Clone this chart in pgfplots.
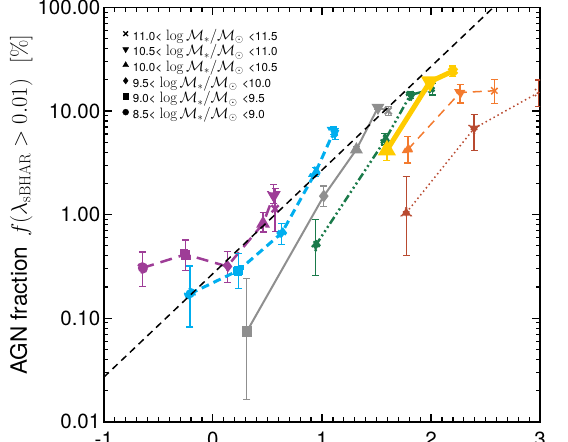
\RequirePackage{fix-cm}
\documentclass[border=0pt]{standalone}
\usepackage{fontspec}
\usepackage{pgfplots}
\pgfplotsset{compat=1.18}
\newfontfamily\hv{TeX Gyre Heros}

\definecolor{purpleC}{HTML}{9E3D97}
\definecolor{cyanC}{HTML}{00AEEF}
\definecolor{grayC}{HTML}{8F8F8F}
\definecolor{greenC}{HTML}{1A7A4A}
\definecolor{yellowC}{HTML}{FFCC00}
\definecolor{orangeC}{HTML}{F37A2E}
\definecolor{brownC}{HTML}{B84A30}

% filled triangle pointing down
\pgfdeclareplotmark{tridown*}{%
  \pgfpathmoveto{\pgfqpointpolar{270}{\pgfplotmarksize}}%
  \pgfpathlineto{\pgfqpointpolar{30}{\pgfplotmarksize}}%
  \pgfpathlineto{\pgfqpointpolar{150}{\pgfplotmarksize}}%
  \pgfpathclose\pgfusepathqfillstroke}

\pgfplotsset{
  mk/.style={
    color=#1, mark=*, scatter, point meta=explicit symbolic,
    scatter/classes={
      c={mark=*, mark size=4.5bp, mark options={solid, line width=0.8bp, draw=#1, fill=#1}},
      s={mark=square*, mark size=4.2bp, mark options={solid, line width=0.8bp, draw=#1, fill=#1}},
      d={mark=diamond*, mark size=4.8bp, mark options={solid, line width=0.8bp, draw=#1, fill=#1}},
      u={mark=triangle*, mark size=5.5bp, mark options={solid, line width=0.8bp, draw=#1, fill=#1}},
      v={mark=tridown*, mark size=5.5bp, mark options={solid, line width=0.8bp, draw=#1, fill=#1}},
      cr={mark=x, mark size=5bp, mark options={solid, line width=1.5bp, draw=#1}}},
    error bars/y dir=both, error bars/y explicit,
    error bars/error bar style={solid, line width=1.3bp, color=#1},
    error bars/error mark options={rotate=90, mark size=3.5bp, line width=1.3bp, solid, color=#1},
  },
  lg/.style={only marks, black, legend image code/.code={%
      \draw[##1] plot coordinates {(0bp,3.8bp)};
      \path (-3.3bp,0bp) (6bp,0bp);}},
}
\newcommand{\mrange}[2]{{\hv #1<}\hspace{0.35em}{\fontsize{15bp}{16bp}\selectfont$\log\mathcal{M}_*/\mathcal{M}_\odot$}\hspace{0.4em}{\hv <#2}}

\begin{document}
\begin{tikzpicture}
\begin{axis}[
  scale only axis, width=436.4bp, height=414.2bp,
  ymode=log, xmin=-1, xmax=3, ymin=0.01, ymax=100,
  xtick={-1,0,1,2,3}, xticklabels={-1,0,1,2,3},
  minor x tick num=9,
  ytick={0.01,0.1,1,10,100}, yticklabels={0.01,0.10,1.00,10.00,100.00},
  tick label style={font=\hv\fontsize{20.5bp}{24bp}\selectfont},
  xticklabel style={yshift=-7bp},
  major tick length=8bp, minor tick length=4.5bp,
  tick style={line width=1.2bp, black},
  axis line style={line width=1.8bp},
  clip marker paths=true,
  ylabel={\fontsize{22.5bp}{27bp}\selectfont{\hv AGN fraction}\hspace{0.45em}$f(\lambda_{\rm sBHAR}>0.01)$\hspace{0.7em}[\%]},
  ylabel style={at={(axis description cs:-0.176,0.524)}, anchor=base},
  legend cell align=left,
  legend style={at={(axis description cs:0.0417,0.9457)}, anchor=north west,
    draw=none, fill=none, inner sep=0pt, font=\hv\fontsize{11.5bp}{14bp}\selectfont,
    nodes={inner sep=1bp, text height=9bp, text depth=3.5bp}, row sep=1.2bp},
]
\addlegendimage{lg, mark=x, mark size=3.3bp, mark options={line width=1.3bp}}
\addlegendentry{\mrange{11.0}{11.5}}
\addlegendimage{lg, mark=tridown*, mark size=3.4bp}
\addlegendentry{\mrange{10.5}{11.0}}
\addlegendimage{lg, mark=triangle*, mark size=3.4bp}
\addlegendentry{\mrange{10.0}{10.5}}
\addlegendimage{lg, mark=diamond*, mark size=3.2bp}
\addlegendentry{\mrange{9.5}{10.0}}
\addlegendimage{lg, mark=square*, mark size=2.8bp}
\addlegendentry{\mrange{9.0}{9.5}}
\addlegendimage{lg, mark=*, mark size=3bp}
\addlegendentry{\mrange{8.5}{9.0}}

% purple, long dashes
\addplot[mk=purpleC, line width=2.5bp, dash pattern=on 12bp off 7bp, forget plot]
  table[x=x, y=y, y error plus=ep, y error minus=em, meta=m] {
x y ep em m
-0.647 0.305 0.130 0.102 c
-0.250 0.413 0.155 0.124 s
0.131 0.316 0.125 0.096 d
0.460 0.818 0.232 0.138 u
0.558 1.540 0.410 0.260 v
0.570 1.140 0.660 0.450 cr
};
% cyan, dashed
\addplot[mk=cyanC, line width=3bp, dash pattern=on 8bp off 5bp, forget plot]
  table[x=x, y=y, y error plus=ep, y error minus=em, meta=m] {
x y ep em m
-0.210 0.172 0.146 0.090 c
0.235 0.289 0.131 0.097 s
0.631 0.664 0.156 0.148 d
0.940 2.550 0.300 0.220 u
1.110 6.400 0.600 0.500 v
1.120 6.000 0.800 0.700 cr
};
% gray, solid
\addplot[mk=grayC, line width=2bp, forget plot]
  table[x=x, y=y, y error plus=ep, y error minus=em, meta=m] {
x y ep em m
0.311 0.0743 0.166 0.058 s
1.016 1.51 0.38 0.32 d
1.315 4.25 0.30 0.30 u
1.513 10.8 0.5 0.5 v
1.607 10.05 1.05 1.05 cr
};
% green, dash dot dot dot
\addplot[mk=greenC, line width=2.5bp, dash pattern=on 8bp off 3bp on 2bp off 3bp on 2bp off 3bp on 2bp off 3bp, forget plot]
  table[x=x, y=y, y error plus=ep, y error minus=em, meta=m] {
x y ep em m
0.942 0.505 0.395 0.246 d
1.577 5.23 0.87 0.53 u
1.810 14.3 1.0 1.0 v
2.010 16.2 2.3 1.9 cr
};
% yellow, thick solid
\addplot[mk=yellowC, line width=5bp, forget plot]
  table[x=x, y=y, y error plus=ep, y error minus=em, meta=m] {
x y ep em m
1.595 4.19 0.49 0.84 u
1.990 19.2 1.0 1.0 v
2.200 24.3 2.9 2.6 cr
};
% orange, thin dashed
\addplot[mk=orangeC, line width=1.5bp, dash pattern=on 9bp off 6bp, forget plot]
  table[x=x, y=y, y error plus=ep, y error minus=em, meta=m] {
x y ep em m
1.787 4.25 1.45 1.09 u
2.266 15.1 3.0 3.1 v
2.583 15.7 4.5 3.9 cr
};
% brown, dotted
\addplot[mk=brownC, line width=1.5bp, dash pattern=on 1.5bp off 3bp, forget plot]
  table[x=x, y=y, y error plus=ep, y error minus=em, meta=m] {
x y ep em m
1.772 1.04 1.31 0.64 u
2.394 6.79 2.54 2.60 v
2.985 15.1 4.8 4.1 cr
};
% black dashed reference line
\addplot[black, line width=1.5bp, dash pattern=on 7bp off 5bp, forget plot]
  coordinates {(-1,0.0269) (2.57,100)};
\end{axis}
\pgfresetboundingbox
\path[use as bounding box] (-103.8bp,-20.3bp) rectangle (464.2bp,421.7bp);
\end{tikzpicture}
\end{document}
